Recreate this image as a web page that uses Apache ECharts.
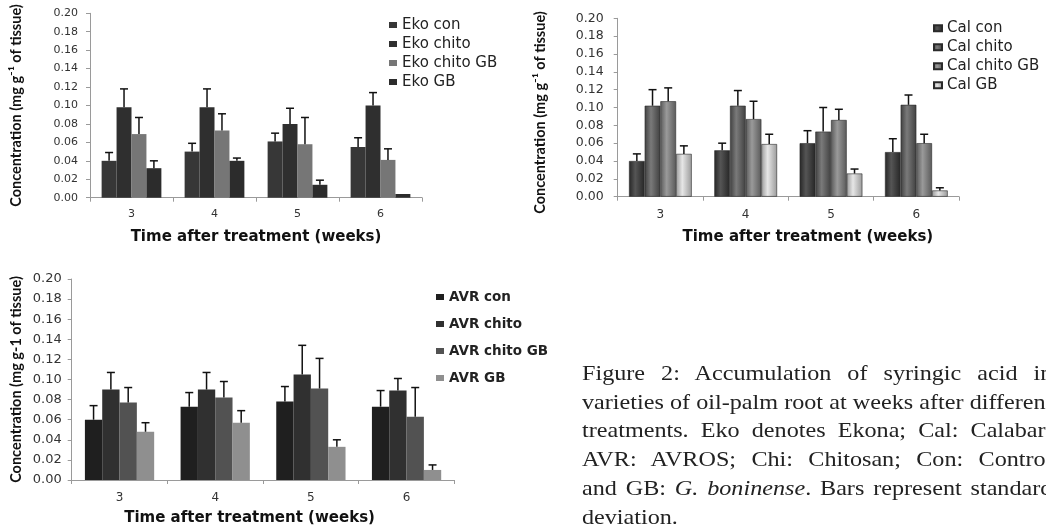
<!DOCTYPE html>
<html>
<head>
<meta charset="utf-8">
<script src="https://cdn.jsdelivr.net/npm/echarts@6/dist/echarts.min.js"></script>
<style>
html,body{margin:0;padding:0;background:#fff;overflow:hidden;width:1046px;height:529px;}
#chart{position:absolute;left:0;top:0;width:1046px;height:529px;}
#cap{position:absolute;left:582px;top:359px;width:409px;font-family:'Liberation Serif','Times New Roman',serif;font-size:21px;line-height:28.7px;color:#222;transform:scaleX(1.15);transform-origin:0 0;}
#cap div{white-space:nowrap;}
#cap .j{text-align:justify;text-align-last:justify;}
#cap .l{text-align:left;}
</style>
</head>
<body>
<div id="chart"></div>
<div id="cap">
<div class="j">Figure 2: Accumulation of syringic acid in</div>
<div class="j">varieties of oil-palm root at weeks after different</div>
<div class="j">treatments. Eko denotes Ekona; Cal: Calabar;</div>
<div class="j">AVR: AVROS; Chi: Chitosan; Con: Control</div>
<div class="j">and GB: <i>G. boninense</i>. Bars represent standard</div>
<div class="l">deviation.</div>
</div>
<script>
// ---------- data ----------
const weeks = ['3', '4', '5', '6'];
const yTicks = [0, 0.2, 0.02]; // min, max, interval

const ekoNames = ['Eko con', 'Eko chito', 'Eko chito GB', 'Eko GB'];
const ekoCon = [0.040, 0.050, 0.061, 0.055];
const ekoChito = [0.098, 0.098, 0.080, 0.100];
const ekoChitoGB = [0.069, 0.073, 0.058, 0.041];
const ekoGB = [0.032, 0.040, 0.014, 0.004];
const ekoConSD = [0.009, 0.009, 0.009, 0.010];
const ekoChitoSD = [0.020, 0.020, 0.017, 0.014];
const ekoChitoGBSD = [0.018, 0.018, 0.029, 0.012];
const ekoGBSD = [0.008, 0.003, 0.005, 0];

const calNames = ['Cal con', 'Cal chito', 'Cal chito GB', 'Cal GB'];
const calCon = [0.040, 0.052, 0.060, 0.050];
const calChito = [0.102, 0.102, 0.073, 0.103];
const calChitoGB = [0.107, 0.087, 0.086, 0.060];
const calGB = [0.048, 0.059, 0.026, 0.007];
const calConSD = [0.008, 0.008, 0.014, 0.015];
const calChitoSD = [0.018, 0.017, 0.027, 0.011];
const calChitoGBSD = [0.015, 0.020, 0.012, 0.010];
const calGBSD = [0.009, 0.011, 0.005, 0.003];

const avrNames = ['AVR con', 'AVR chito', 'AVR chito GB', 'AVR GB'];
const avrCon = [0.060, 0.073, 0.078, 0.073];
const avrChito = [0.090, 0.090, 0.105, 0.089];
const avrChitoGB = [0.077, 0.082, 0.091, 0.063];
const avrGB = [0.048, 0.057, 0.033, 0.010];
const avrConSD = [0.014, 0.014, 0.015, 0.016];
const avrChitoSD = [0.017, 0.017, 0.029, 0.012];
const avrChitoGBSD = [0.015, 0.016, 0.030, 0.029];
const avrGBSD = [0.009, 0.012, 0.007, 0.005];

const xName = 'Time after treatment (weeks)';
const yNameSup = 'Concentration (mg g\u207B\u00B9 of tissue)';
const yNamePlain = 'Concentration (mg g-1 of tissue)';

// ---------- styles ----------
const ekoColors = ['#373737', '#2f2f2f', '#767676', '#2c2c2c'];
function cyl(a, b) {
  return {type: 'linear', x: 0, y: 0, x2: 1, y2: 0,
    colorStops: [{offset: 0, color: a}, {offset: 0.4, color: b}, {offset: 1, color: a}]};
}
const calColors = [cyl('#262626', '#555555'), cyl('#404040', '#7a7a7a'), cyl('#5a5a5a', '#9a9a9a'), cyl('#9a9a9a', '#e6e6e6')];
const avrColors = ['#1f1f1f', '#303030', '#525252', '#8f8f8f'];

const grids = [
  {left: 90, top: 13.3, width: 332, height: 184.4},
  {left: 617.7, top: 18.3, width: 341.3, height: 178.4},
  {left: 71.7, top: 279, width: 382.7, height: 201}
];
const gaps = [0.28, 0.265, 0.276];

function errRender(gapFrac, n) {
  return function (params, api) {
    const cat = api.value(0), v = api.value(1), sd = api.value(2), i = api.value(3);
    if (!(sd > 0)) return;
    const band = api.size([1, 0])[0];
    const gw = band * (1 - gapFrac);
    const bw = gw / n;
    const cx = api.coord([cat, 0])[0] - gw / 2 + (i + 0.5) * bw;
    const y0 = api.coord([cat, v])[1];
    const y1 = api.coord([cat, v + sd])[1];
    const st = {stroke: '#111', lineWidth: 1.5};
    return {type: 'group', children: [
      {type: 'line', shape: {x1: cx, y1: y0, x2: cx, y2: y1}, style: st},
      {type: 'line', shape: {x1: cx - 4, y1: y1, x2: cx + 4, y2: y1}, style: st}
    ]};
  };
}

function xAxisOf(gi, margin, lblSize, gap, pad) {
  return {
    type: 'category', gridIndex: gi, data: weeks,
    axisLine: {lineStyle: {color: '#9a9a9a', width: 1}},
    axisTick: {show: true, length: 4, lineStyle: {color: '#9a9a9a'}},
    axisLabel: {color: '#333', fontFamily: 'DejaVu Sans', fontSize: lblSize, margin: margin},
    name: xName, nameLocation: 'middle', nameGap: gap,
    nameTextStyle: {fontFamily: 'DejaVu Sans', fontWeight: 'bold', fontSize: 15, color: '#111', padding: pad}
  };
}
function yAxisOf(gi, name, gap, lblSize, lblMargin, pad) {
  return {
    type: 'value', gridIndex: gi, min: yTicks[0], max: yTicks[1], interval: yTicks[2],
    axisLine: {show: true, lineStyle: {color: '#9a9a9a', width: 1}},
    axisTick: {show: true, length: 4, lineStyle: {color: '#9a9a9a'}},
    splitLine: {show: false},
    axisLabel: {color: '#333', fontFamily: 'DejaVu Sans', fontSize: lblSize, margin: lblMargin, formatter: v => v.toFixed(2)},
    name: name, nameLocation: 'middle', nameRotate: 90, nameGap: gap,
    nameTextStyle: {fontFamily: 'Lato', fontWeight: 'bold', fontSize: 14.5, color: '#111', padding: pad || [0, 0, 0, 0]}
  };
}

const series = [];
function addChart(gi, names, vals, sds, colors, border) {
  names.forEach((nm, i) => {
    series.push({
      type: 'bar', name: nm, xAxisIndex: gi, yAxisIndex: gi, data: vals[i],
      barGap: '0%', barCategoryGap: (gaps[gi] * 100) + '%',
      itemStyle: {color: colors[i], borderColor: border ? '#2a2a2a' : undefined, borderWidth: border ? 0.6 : 0},
      emphasis: {disabled: true}
    });
  });
  const ed = [];
  names.forEach((nm, i) => { weeks.forEach((w, j) => { ed.push([j, vals[i][j], sds[i][j], i]); }); });
  series.push({type: 'custom', xAxisIndex: gi, yAxisIndex: gi, data: ed, z: 5,
    renderItem: errRender(gaps[gi], names.length), encode: {x: 0, y: 1}, silent: true});
}
addChart(0, ekoNames, [ekoCon, ekoChito, ekoChitoGB, ekoGB], [ekoConSD, ekoChitoSD, ekoChitoGBSD, ekoGBSD], ekoColors, false);
addChart(1, calNames, [calCon, calChito, calChitoGB, calGB], [calConSD, calChitoSD, calChitoGBSD, calGBSD], calColors, true);
addChart(2, avrNames, [avrCon, avrChito, avrChitoGB, avrGB], [avrConSD, avrChitoSD, avrChitoGBSD, avrGBSD], avrColors, false);

function legendOf(names, left, top, gap, ts) {
  return {orient: 'vertical', left: left, top: top, padding: 0, itemWidth: 8, itemHeight: 6, itemGap: gap,
    icon: 'rect', data: names, selectedMode: false,
    textStyle: Object.assign({fontFamily: 'DejaVu Sans', fontSize: 15, color: '#222', lineHeight: 15}, ts || {})};
}

const chart = echarts.init(document.getElementById('chart'), null, {renderer: 'canvas'});
chart.setOption({
  animation: false,
  backgroundColor: '#fff',
  grid: grids,
  xAxis: [xAxisOf(0, 11, 11, 31.5, [0, 0, 0, 0]), xAxisOf(1, 12, 12, 33, [0, 0, 0, 39]), xAxisOf(2, 12, 12, 31, [0, 27, 0, 0])],
  yAxis: [yAxisOf(0, yNameSup, 66, 11, 12), yAxisOf(1, yNameSup, 70, 12.5, 14, [0, 10, 0, 0]), yAxisOf(2, yNamePlain, 48, 13, 10)],
  legend: [
    legendOf(ekoNames, 389, 17.5, 4),
    legendOf(calNames, 933, 20.8, 4),
    legendOf(avrNames, 436, 289.5, 12, {fontWeight: 'bold', fontSize: 13.5})
  ],
  series: series
});
</script>
</body>
</html>
